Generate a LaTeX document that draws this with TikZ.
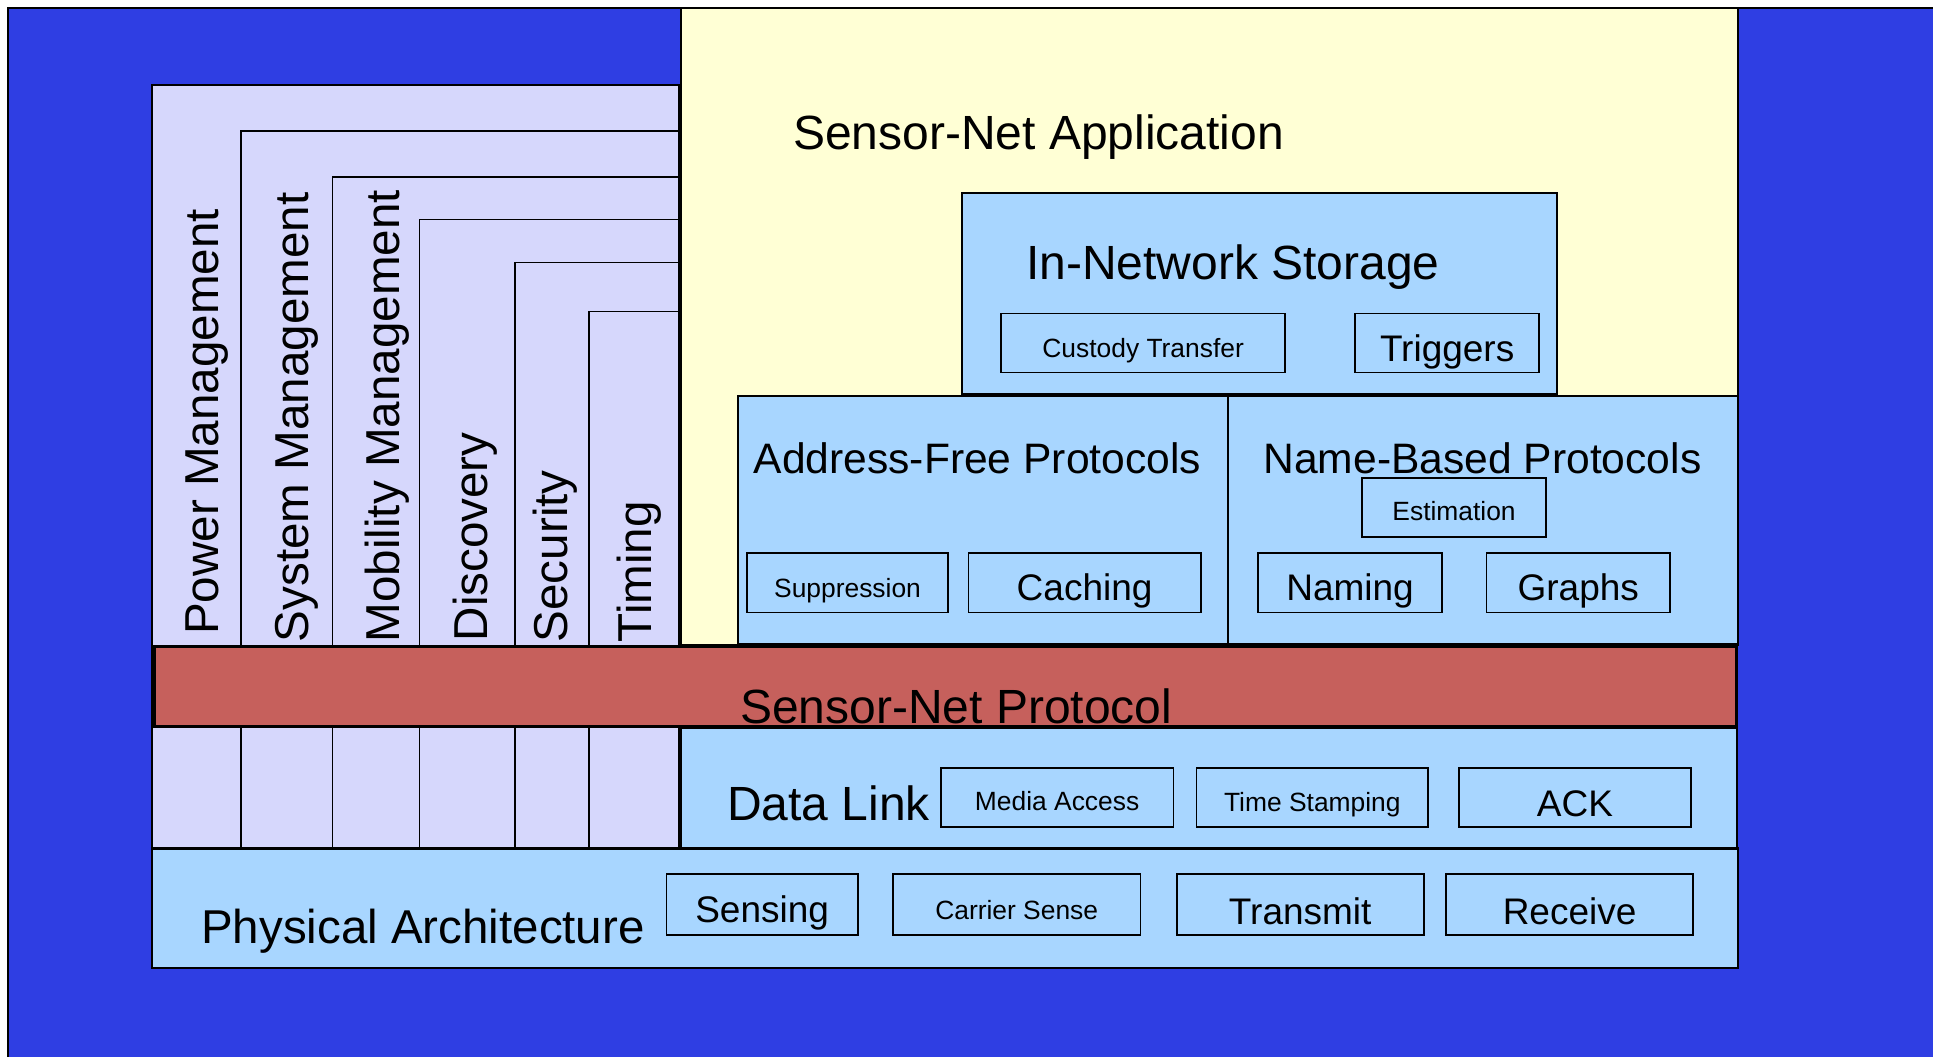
\documentclass[tikz,border=0pt]{standalone}
\usepackage{fontspec}
\setmainfont{Liberation Sans}
\usetikzlibrary{fit}
\definecolor{bgblue}{RGB}{47,62,227}
\definecolor{lav}{RGB}{214,215,252}
\definecolor{appyel}{RGB}{255,255,213}
\definecolor{lblue}{RGB}{168,214,255}
\definecolor{pred}{RGB}{198,96,92}
\begin{document}
\begin{tikzpicture}[x=1pt,y=-1pt,
  area/.style={draw=black, line width=2pt, inner sep=0pt},
  inbox/.style={draw=black, line width=1.8pt, fill=lblue, inner sep=0pt},
  nest/.style={draw=black, line width=1.5pt},
  txt/.style={inner sep=0pt, text=black},
  fbig/.style={txt, font=\fontsize{48}{56}\selectfont},
  fmid/.style={txt, font=\fontsize{42.6}{50}\selectfont},
  fmed/.style={txt, font=\fontsize{37}{44}\selectfont},
  fsmall/.style={txt, font=\fontsize{26.4}{32}\selectfont},
  vtext/.style={txt, font=\fontsize{47.6}{56}\selectfont, rotate=90, anchor=base west}]
\useasboundingbox (0,0) rectangle (1933,1057);
\fill[white] (0,0) rectangle (1933,1057);
\node[area, fill=bgblue, fit={(8,8)(1945,1070)}] (bg) {};
% management panel
\node[area, line width=1.5pt, fill=lav, fit={(152,85)(679,848)}] (mgmt) {};
\coordinate (n1) at (241,848);
\coordinate (n2) at (332.5,848);
\coordinate (n3) at (419.5,848);
\coordinate (n4) at (515,848);
\coordinate (n5) at (589,848);
\draw[nest] (n1) -- (241,131) -- (679,131);
\draw[nest] (n2) -- (332.5,177) -- (679,177);
\draw[nest] (n3) -- (419.5,219.5) -- (679,219.5);
\draw[nest] (n4) -- (515,262.5) -- (679,262.5);
\draw[nest] (n5) -- (589,311.5) -- (679,311.5);
% application
\node[area, fill=appyel, fit={(680.5,8)(1738,645)}] (app) {};
\node[area, fill=lblue, fit={(962,193)(1557,393.5)}] (ins) {};
\node[area, fill=lblue, fit={(738,395.5)(1228.3,644)}] (afp) {};
\node[area, fill=lblue, fit={(1228.3,395.5)(1738,644)}] (nbp) {};
% protocol bar
\node[area, line width=3pt, fill=pred, fit={(154,646)(1736.5,726.5)}] (proto) {};
% data link
\node[area, line width=2.5pt, fill=lblue, fit={(681,727.5)(1737,848)}] (dl) {};
% physical
\node[area, line width=2.5pt, fill=lblue, fit={(152,848.5)(1738,968)}] (phy) {};
% inner boxes
\node[inbox, fit={(1001,313.5)(1285.2,372.5)}] (cust) {};
\node[inbox, fit={(1355,313.5)(1539.3,372.5)}] (trig) {};
\node[inbox, fit={(1362.3,477.7)(1545.8,536.6)}] (est) {};
\node[inbox, fit={(746.9,552.6)(948.2,612.4)}] (supp) {};
\node[inbox, fit={(968.5,552.6)(1200.7,612.4)}] (cach) {};
\node[inbox, fit={(1258.3,552.6)(1441.8,612.4)}] (nam) {};
\node[inbox, fit={(1486.5,552.6)(1670,612.4)}] (grph) {};
\node[inbox, fit={(940.8,767.7)(1173.4,826.7)}] (media) {};
\node[inbox, fit={(1196.4,767.7)(1428.3,826.7)}] (tstamp) {};
\node[inbox, fit={(1458.6,767.7)(1691.2,826.7)}] (ack) {};
\node[inbox, fit={(666.5,874.3)(857.8,934.7)}] (sens) {};
\node[inbox, fit={(893,874.3)(1140.4,934.7)}] (csense) {};
\node[inbox, fit={(1176.7,874.3)(1423.7,934.7)}] (trans) {};
\node[inbox, fit={(1446.1,874.3)(1693.1,934.7)}] (recv) {};
% vertical texts
\node[vtext] (tpm) at (218.5,635) {Power Management};
\node[vtext] (tsm) at (308,642.5) {System Management};
\node[vtext] (tmm) at (399,642.5) {Mobility Management};
\node[vtext] (tdi) at (487,641.5) {Discovery};
\node[vtext] (tse) at (567,642.5) {Security};
\node[vtext] (tti) at (651,642.5) {Timing};
% texts
\node[fbig, anchor=base west] (tapp) at (793,149) {Sensor-Net Application};
\node[fbig, anchor=base west] (tins) at (1026,279) {In-Network Storage};
\node[fmid, anchor=base west] (tafp) at (753.4,473.5) {Address-Free Protocols};
\node[fmid, anchor=base west] (tnbp) at (1263.2,473.5) {Name-Based Protocols};
\node[fbig, anchor=base west] (tproto) at (740,723) {Sensor-Net Protocol};
\node[fbig, anchor=base west] (tdl) at (727,820) {Data Link};
\node[txt, font=\fontsize{47.5}{56}\selectfont, anchor=base west] (tphy) at (201,943) {Physical Architecture};
\node[fsmall, anchor=base] at (cust.center |- 0,357) {Custody Transfer};
\node[fmed, anchor=base] at (trig.center |- 0,361) {Triggers};
\node[fsmall, anchor=base] at (est.center |- 0,520.6) {Estimation};
\node[fsmall, anchor=base] at (supp.center |- 0,597) {Suppression};
\node[fmed, anchor=base] at (cach.center |- 0,600) {Caching};
\node[fmed, anchor=base] at (nam.center |- 0,600) {Naming};
\node[fmed, anchor=base] at (grph.center |- 0,600) {Graphs};
\node[fsmall, anchor=base] at (media.center |- 0,810.7) {Media Access};
\node[fsmall, anchor=base] at (tstamp.center |- 0,811) {Time Stamping};
\node[fmed, anchor=base] at (ack.center |- 0,816) {ACK};
\node[fmed, anchor=base] at (sens.center |- 0,922) {Sensing};
\node[fsmall, anchor=base] at (csense.center |- 0,919) {Carrier Sense};
\node[fmed, anchor=base] at (trans.center |- 0,924) {Transmit};
\node[fmed, anchor=base] at (recv.center |- 0,924) {Receive};
\end{tikzpicture}
\end{document}
